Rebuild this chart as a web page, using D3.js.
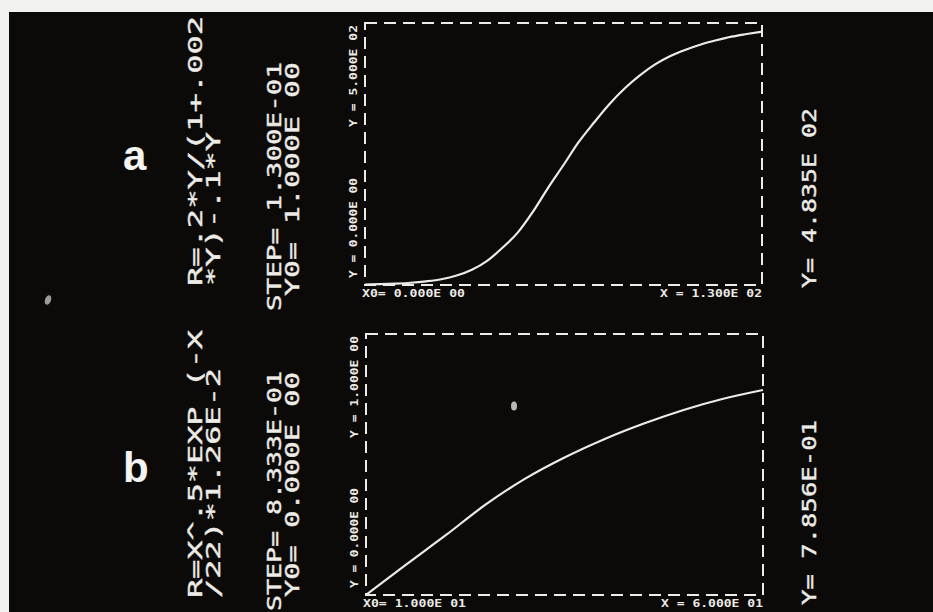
<!DOCTYPE html>
<html>
<head>
<meta charset="utf-8">
<script src="https://cdn.jsdelivr.net/npm/d3@7/dist/d3.min.js"></script>
<style>
  body { margin: 0; background: #f2f2f0; }
  svg { display: block; }
</style>
</head>
<body>
<svg id="chart" width="933" height="612"></svg>
<script>
// panel a: R=.2*Y/(1+.002*Y)-.1*Y, X from 0 to 130
const xA = [0, 5, 10, 15, 20, 25, 30, 35, 40, 45, 50, 55, 60, 65, 70, 75, 80, 85, 90, 95, 100, 105, 110, 115, 120, 125, 130];
const yA = [1, 1.6, 2.7, 4.3, 7, 11, 18, 29, 46, 71, 100, 140, 186, 229, 273, 310, 345, 375, 400, 421, 437, 449, 459, 467, 474, 479, 483.5];

// panel b: R=X^.5*EXP(-X/22)*1.26E-2, X from 10 to 60
const xB = [10, 15, 20, 25, 30, 35, 40, 45, 50, 55, 60];
const yB = [0, 0.115, 0.228, 0.345, 0.445, 0.527, 0.597, 0.657, 0.709, 0.752, 0.7856];

const xDomainA = [0, 130], yDomainA = [0, 500];
const xDomainB = [10, 60], yDomainB = [0, 1];

// screen texts
const eqA = ['R=.2*Y/(1+.002', '*Y)-.1*Y'];
const eqB = ['R=X^.5*EXP (-X', '/22)*1.26E-2'];
const stepA = ['STEP= 1.300E-01', 'Y0= 1.000E 00'];
const stepB = ['STEP= 8.333E-01', 'Y0= 0.000E 00'];
const resultA = 'Y= 4.835E 02';
const resultB = 'Y= 7.856E-01';
const yLabelsA = ['Y = 0.000E 00', 'Y = 5.000E 02'];
const yLabelsB = ['Y = 0.000E 00', 'Y = 1.000E 00'];
const xLabelsA = ['X0= 0.000E 00', 'X = 1.300E 02'];
const xLabelsB = ['X0= 1.000E 01', 'X = 6.000E 01'];

const svg = d3.select('#chart');
const ink = '#ecebe6';
const mono = '"DejaVu Sans Mono", "Liberation Mono", monospace';

// photo background with white margin
svg.append('rect').attr('x', 9).attr('y', 12).attr('width', 924).attr('height', 600).attr('fill', '#0c0a09');

// dust specks on the photo
svg.append('ellipse').attr('cx', 48).attr('cy', 300).attr('rx', 3).attr('ry', 5)
  .attr('fill', '#9a9a98').attr('transform', 'rotate(20,48,300)');
svg.append('ellipse').attr('cx', 514).attr('cy', 406).attr('rx', 3).attr('ry', 4.5)
  .attr('fill', '#b8b8b4');

// rotated text helper (reads bottom to top)
function vtext(txt, bx, by, len, size, bold) {
  svg.append('text')
    .attr('transform', `translate(${bx},${by}) rotate(-90)`)
    .attr('textLength', len)
    .attr('lengthAdjust', 'spacingAndGlyphs')
    .style('font-family', mono)
    .style('font-size', size + 'px')
    .style('font-weight', bold ? 'bold' : 'normal')
    .attr('fill', ink)
    .attr('stroke', bold ? 'none' : ink)
    .attr('stroke-width', 0.4)
    .text(txt);
}

function panel(cfg) {
  const x = d3.scaleLinear().domain(cfg.xDomain).range([cfg.left, cfg.right]);
  const y = d3.scaleLinear().domain(cfg.yDomain).range([cfg.bottom, cfg.top]);

  // dashed frame
  svg.append('rect')
    .attr('x', cfg.left).attr('y', cfg.top)
    .attr('width', cfg.right - cfg.left).attr('height', cfg.bottom - cfg.top)
    .attr('fill', 'none')
    .attr('stroke', ink)
    .attr('stroke-width', 2)
    .attr('stroke-dasharray', '12,7');

  const line = d3.line()
    .x((d, i) => x(cfg.xs[i]))
    .y(d => y(d))
    .curve(d3.curveMonotoneX);

  svg.append('path')
    .datum(cfg.ys)
    .attr('d', line)
    .attr('fill', 'none')
    .attr('stroke', ink)
    .attr('stroke-width', 2.2);

  // y labels along the left of the frame
  vtext(cfg.yLabels[0], cfg.left - 8, cfg.bottom - 7, 100, 10.5, true);
  vtext(cfg.yLabels[1], cfg.left - 8, cfg.top + 104, 102, 10.5, true);

  // x labels below
  svg.append('text')
    .attr('x', cfg.left - 3).attr('y', cfg.bottom + 12)
    .attr('textLength', 103).attr('lengthAdjust', 'spacingAndGlyphs')
    .style('font-family', mono).style('font-size', '10.5px').style('font-weight', 'bold')
    .attr('fill', ink).text(cfg.xLabels[0]);
  svg.append('text')
    .attr('x', cfg.right - 102).attr('y', cfg.bottom + 12)
    .attr('textLength', 102).attr('lengthAdjust', 'spacingAndGlyphs')
    .style('font-family', mono).style('font-size', '10.5px').style('font-weight', 'bold')
    .attr('fill', ink).text(cfg.xLabels[1]);

  // formula, step and result
  vtext(cfg.eq[0], 202, cfg.eqY, cfg.eqLen[0], 20, false);
  vtext(cfg.eq[1], 220, cfg.eqY, cfg.eqLen[1], 20, false);
  vtext(cfg.step[0], 281, cfg.stepY[0], cfg.stepLen[0], 20, false);
  vtext(cfg.step[1], 299, cfg.stepY[1], cfg.stepLen[1], 20, false);
  vtext(cfg.result, 816, cfg.resY, cfg.resLen, 20, false);

  svg.append('text')
    .attr('x', 123).attr('y', cfg.tagY)
    .style('font-family', '"Liberation Sans", Arial, sans-serif')
    .style('font-size', '42px').style('font-weight', 'bold')
    .attr('fill', '#f4f4f2')
    .text(cfg.tag);
}

panel({
  xs: xA, ys: yA, xDomain: xDomainA, yDomain: yDomainA,
  left: 365, right: 762, top: 23, bottom: 285,
  yLabels: yLabelsA, xLabels: xLabelsA,
  eq: eqA, eqY: 286, eqLen: [270, 154],
  step: stepA, stepY: [311, 296], stepLen: [249, 234],
  result: resultA, resY: 288, resLen: 180,
  tag: 'a', tagY: 170
});

panel({
  xs: xB, ys: yB, xDomain: xDomainB, yDomain: yDomainB,
  left: 366, right: 763, top: 334, bottom: 595,
  yLabels: yLabelsB, xLabels: xLabelsB,
  eq: eqB, eqY: 598, eqLen: [268, 230],
  step: stepB, stepY: [611, 597], stepLen: [240, 225],
  result: resultB, resY: 605, resLen: 185,
  tag: 'b', tagY: 482
});
</script>
</body>
</html>
